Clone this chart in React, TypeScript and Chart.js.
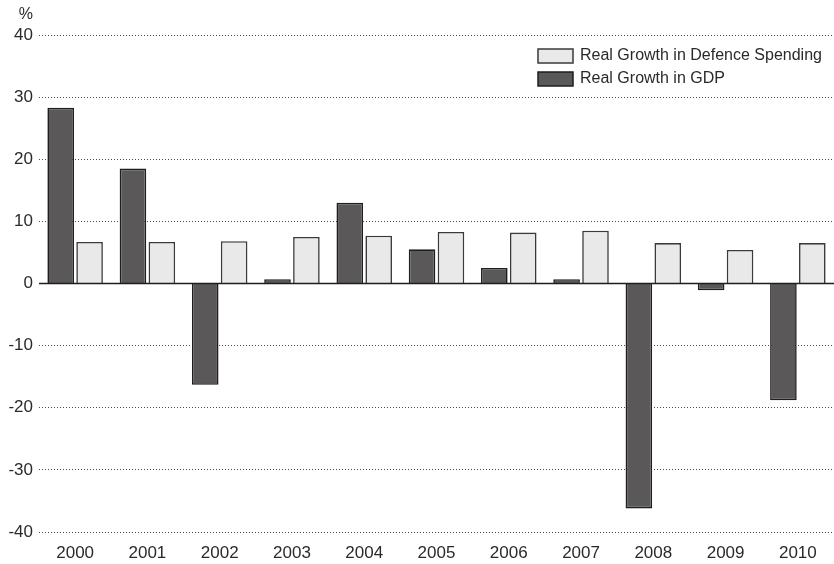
import React, { useEffect, useRef } from "react";
import { Chart, registerables } from "chart.js";

Chart.register(...registerables);

const years = ["2000", "2001", "2002", "2003", "2004", "2005", "2006", "2007", "2008", "2009", "2010"];
const gdpGrowth = [28.3, 18.5, -16.3, 0.7, 13.0, 5.5, 2.5, 0.7, -36.2, -1.1, -18.8];
const defenceGrowth = [6.7, 6.7, 6.8, 7.5, 7.7, 8.3, 8.2, 8.5, 6.5, 5.4, 6.5];
const yMin = -40;
const yMax = 40;
const yStep = 10;
const unitLabel = "%";
const gdpLabel = "Real Growth in GDP";
const defenceLabel = "Real Growth in Defence Spending";

const FONT = "'Liberation Sans', Arial, Helvetica, sans-serif";

const overlay = {
  id: "overlay",
  afterDatasetsDraw(chart: any) {
    const { ctx, chartArea, scales } = chart;
    const y0 = scales.y.getPixelForValue(0);
    ctx.save();
    ctx.strokeStyle = "#1e1e1e";
    ctx.lineWidth = 1.5;
    ctx.beginPath();
    ctx.moveTo(chartArea.left, y0);
    ctx.lineTo(chartArea.right, y0);
    ctx.stroke();
    ctx.restore();
  },
  afterDraw(chart: any) {
    const { ctx } = chart;
    ctx.save();
    ctx.fillStyle = "#2a2a2a";
    ctx.font = `16px ${FONT}`;
    ctx.textAlign = "right";
    ctx.textBaseline = "middle";
    ctx.fillText(unitLabel, 33, 15);
    const ds = [...chart.data.datasets].reverse();
    const boxX = 538;
    const boxW = 35;
    const boxH = 14;
    const rowY = [56, 79];
    ctx.font = `16px ${FONT}`;
    ctx.textAlign = "left";
    ds.forEach((d: any, i: number) => {
      const cy = rowY[i];
      ctx.fillStyle = d.backgroundColor;
      ctx.fillRect(boxX, cy - boxH / 2, boxW, boxH);
      ctx.strokeStyle = d.borderColor;
      ctx.lineWidth = 1.5;
      ctx.strokeRect(boxX, cy - boxH / 2, boxW, boxH);
      ctx.fillStyle = "#2a2a2a";
      ctx.fillText(d.label, 580, cy);
    });
    ctx.restore();
  },
};

export default function App() {
  const ref = useRef<HTMLCanvasElement | null>(null);
  useEffect(() => {
    if (!ref.current) return;
    const chart = new Chart(ref.current, {
      type: "bar",
      data: {
        labels: years,
        datasets: [
          {
            label: gdpLabel,
            data: gdpGrowth,
            backgroundColor: "#5a5858",
            borderColor: "#1e1e1e",
            borderWidth: 1.6,
            categoryPercentage: 0.8,
            barPercentage: 0.92,
          },
          {
            label: defenceLabel,
            data: defenceGrowth,
            backgroundColor: "#e8e9e8",
            borderColor: "#3a3a3a",
            borderWidth: 1.6,
            categoryPercentage: 0.8,
            barPercentage: 0.92,
          },
        ],
      },
      options: {
        responsive: false,
        animation: false,
        layout: { padding: { top: 35, right: 0, left: 0, bottom: 0 } },
        plugins: {
          legend: { display: false },
          tooltip: { enabled: false },
        },
        scales: {
          x: {
            grid: { display: false, drawTicks: false },
            border: { display: false },
            ticks: {
              color: "#2a2a2a",
              font: { family: FONT, size: 17 },
              padding: 11,
              maxRotation: 0,
              autoSkip: false,
            },
            afterFit(scale: any) {
              scale.height = 32;
            },
          },
          y: {
            min: yMin,
            max: yMax,
            grid: {
              drawTicks: false,
              color: (c: any) => (c.tick && c.tick.value === 0 ? "rgba(0,0,0,0)" : "#4a4a4a"),
              lineWidth: 1,
            },
            border: { display: false, dash: [1, 2] },
            ticks: {
              stepSize: yStep,
              color: "#2a2a2a",
              font: { family: FONT, size: 17 },
              padding: 6,
              callback: (v: any) => String(v),
            },
            afterFit(scale: any) {
              scale.width = 39;
            },
          },
        },
      },
      plugins: [overlay],
    });
    return () => chart.destroy();
  }, []);
  return (
    <div style={{ position: "fixed", left: 0, top: 0, width: 834, height: 564, background: "#fff" }}>
      <canvas ref={ref} width={834} height={564} style={{ display: "block" }} />
    </div>
  );
}
